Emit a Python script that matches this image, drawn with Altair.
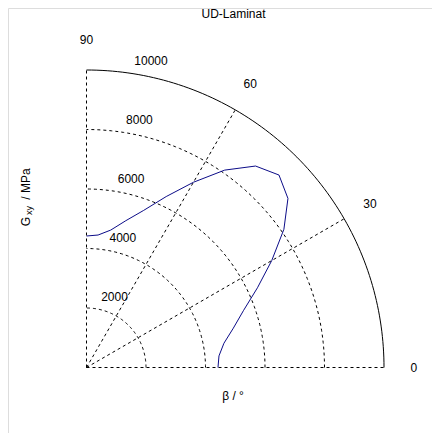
import altair as alt
import pandas as pd

# ---- data ----
beta_deg = [0, 5, 10, 15, 20, 25, 30, 35, 40, 45, 50, 55, 60, 65, 70, 75, 80, 85, 90]
g_xy = [4420, 4470, 4690, 5110, 5620, 6340, 7190, 8100, 8840, 9150,
        8840, 8100, 7190, 6340, 5620, 5110, 4690, 4470, 4420]

grid_radii = [2000, 4000, 6000, 8000]
outer_radius = [10000]
spoke_angles = [0, 30, 60, 90]
radius_labels = ["2000", "4000", "6000", "8000", "10000"]
radius_values = [2000, 4000, 6000, 8000, 10000]
angle_labels = ["0", "30", "60", "90"]

title_text = "UD-Laminat"
x_label = "β / °"

# ---- layout ----
W, H = 424, 425
K = 297.5 / 10000.0          # px per MPa
OX, OY = 78.5, 359.5         # origin in view pixels
xs = alt.Scale(domain=[-OX / K, (W - OX) / K], nice=False, zero=False)
ys = alt.Scale(domain=[-(H - OY) / K, OY / K], nice=False, zero=False)
FONT = "Liberation Sans"

def X(f):
    return alt.X(f, type="quantitative", scale=xs, axis=None)

def Y(f):
    return alt.Y(f, type="quantitative", scale=ys, axis=None)

curve_df = pd.DataFrame({"beta": beta_deg, "g": g_xy})

arc_steps = list(range(0, 91))
arc_df = pd.DataFrame([{"r": r, "a": a} for r in grid_radii for a in arc_steps])
outer_df = pd.DataFrame([{"r": r, "a": a} for r in outer_radius for a in arc_steps])
spoke_df = pd.DataFrame({"a": spoke_angles, "r": [outer_radius[0]] * len(spoke_angles)})
rlab_df = pd.DataFrame({"r": radius_values, "t": radius_labels})
alab_df = pd.DataFrame({"a": spoke_angles, "t": angle_labels})

calc = dict(px="datum.r*cos(datum.a*PI/180)", py="datum.r*sin(datum.a*PI/180)")

grid = alt.Chart(arc_df).transform_calculate(**calc).mark_line(
    color="black", strokeWidth=1, strokeDash=[3, 3]
).encode(x=X("px"), y=Y("py"), detail="r:N", order="a:Q")

outer = alt.Chart(outer_df).transform_calculate(**calc).mark_line(
    color="black", strokeWidth=1
).encode(x=X("px"), y=Y("py"), detail="r:N", order="a:Q")

spokes = alt.Chart(spoke_df).transform_calculate(
    x0="0", y0="0", **calc
).mark_rule(color="black", strokeWidth=1, strokeDash=[3, 3]).encode(
    x=X("x0"), y=Y("y0"), x2="px:Q", y2="py:Q"
)

curve = alt.Chart(curve_df).transform_calculate(
    px="datum.g*cos(datum.beta*PI/180)", py="datum.g*sin(datum.beta*PI/180)"
).mark_line(color="#0c0c88", strokeWidth=1).encode(
    x=X("px"), y=Y("py"), order="beta:Q"
)

rlabels = alt.Chart(rlab_df).transform_calculate(
    px="(datum.r+100)*cos(82*PI/180)", py="(datum.r+100)*sin(82*PI/180)"
).mark_text(align="left", baseline="bottom", dx=6, dy=-1.5, font=FONT, fontSize=12, color="black").encode(
    x=X("px"), y=Y("py"), text="t:N"
)

alabels = alt.Chart(alab_df).transform_calculate(
    px="11000*cos(datum.a*PI/180)", py="11000*sin(datum.a*PI/180)"
).mark_text(align="center", baseline="middle", font=FONT, fontSize=12, color="black").encode(
    x=X("px"), y=Y("py"), text="t:N"
)

label_df = pd.DataFrame({"t": [title_text]})
title = alt.Chart(label_df).mark_text(
    align="center", baseline="top", font=FONT, fontSize=12, color="black"
).encode(x=alt.value(225.5), y=alt.value(0.5), text="t:N")

xlab = alt.Chart(pd.DataFrame({"t": [x_label]})).mark_text(
    align="center", baseline="middle", font=FONT, fontSize=12, color="black"
).encode(x=alt.value(225), y=alt.value(388), text="t:N")

ylab_g = alt.Chart(pd.DataFrame({"t": ["G"]})).mark_text(
    align="center", baseline="alphabetic", angle=270, font=FONT, fontSize=12, color="black"
).encode(x=alt.value(21.5), y=alt.value(213.5), text="t:N")

ylab_sub = alt.Chart(pd.DataFrame({"t": ["xy"]})).mark_text(
    align="center", baseline="alphabetic", angle=270, font=FONT, fontSize=9, color="black"
).encode(x=alt.value(23.5), y=alt.value(202.5), text="t:N")

ylab_rest = alt.Chart(pd.DataFrame({"t": ["/ MPa"]})).mark_text(
    align="center", baseline="alphabetic", angle=270, font=FONT, fontSize=12, color="black"
).encode(x=alt.value(21.5), y=alt.value(176), text="t:N")

chart = alt.layer(
    grid, spokes, outer, curve, rlabels, alabels, title, xlab, ylab_g, ylab_sub, ylab_rest
).properties(
    width=W, height=H, autosize=alt.AutoSizeParams(type="none"), padding=0
).configure_view(stroke=None).configure(background="white")

chart.save("out.html", embed_options={"renderer": "svg", "actions": False})
